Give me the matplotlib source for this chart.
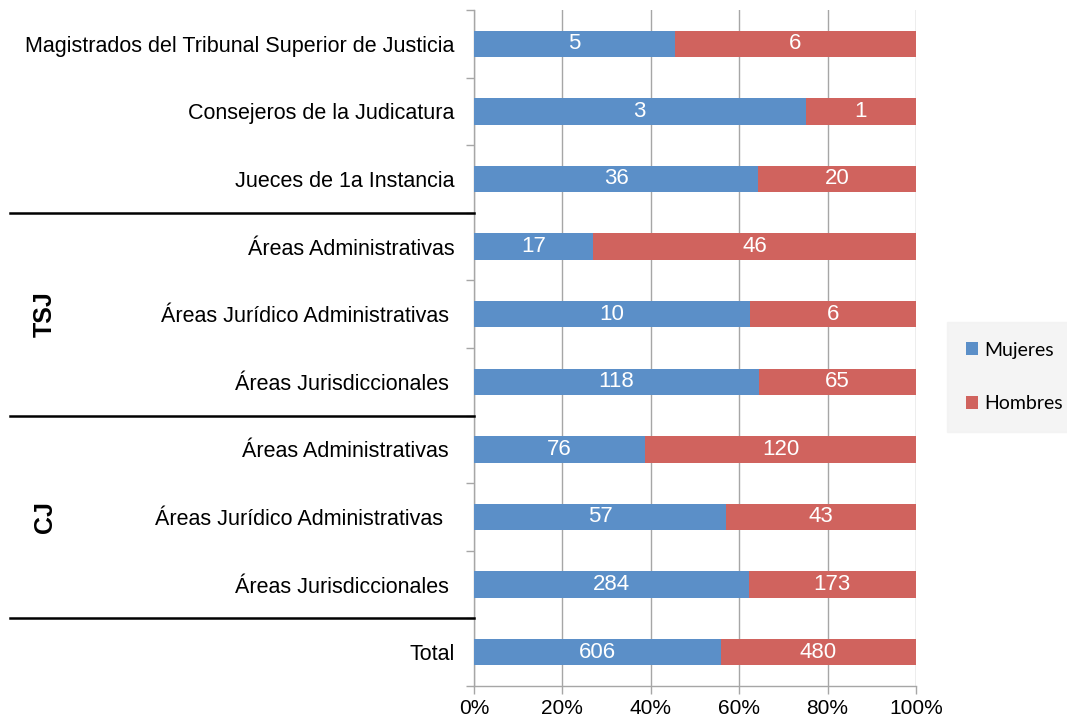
import matplotlib
matplotlib.use("Agg")
import matplotlib.pyplot as plt
from matplotlib.transforms import blended_transform_factory
from matplotlib.patches import Patch
import numpy as np

plt.rcParams['font.family'] = ['Liberation Sans', 'DejaVu Sans']

categories = [
    "Magistrados del Tribunal Superior de Justicia",
    "Consejeros de la Judicatura",
    "Jueces de 1a Instancia",
    "Áreas Administrativas",
    "Áreas Jurídico Administrativas ",
    "Áreas Jurisdiccionales ",
    "Áreas Administrativas ",
    "Áreas Jurídico Administrativas  ",
    "Áreas Jurisdiccionales ",
    "Total",
]
mujeres = [5, 3, 36, 17, 10, 118, 76, 57, 284, 606]
hombres = [6, 1, 20, 46, 6, 65, 120, 43, 173, 480]
groups = [("TSJ", 4), ("CJ", 7)]
separators = [2.5, 5.5, 8.5]
xticks = [0, 0.2, 0.4, 0.6, 0.8, 1.0]
xticklabels = ["0%", "20%", "40%", "60%", "80%", "100%"]

blue = '#5B8FC8'
red = '#D0635E'
grid_c = '#A6A6A6'

fig = plt.figure(figsize=(10.67, 7.19), dpi=100)
ax = fig.add_axes([474/1067, 1 - 686/719, (916 - 474)/1067, (686 - 10)/719])

m = np.array(mujeres, dtype=float)
h = np.array(hombres, dtype=float)
tot = m + h
pm = m / tot
ph = h / tot
y = np.arange(len(categories))

ax.barh(y, pm, height=0.39, color=blue, zorder=3)
ax.barh(y, ph, left=pm, height=0.39, color=red, zorder=3)

for i in range(len(y)):
    ax.text(pm[i] / 2, y[i], str(mujeres[i]), color='white', fontsize=16,
            ha='center', va='center', zorder=4)
    ax.text(pm[i] + ph[i] / 2, y[i], str(hombres[i]), color='white', fontsize=16,
            ha='center', va='center', zorder=4)

ax.set_xlim(0, 1)
ax.set_ylim(len(y) - 0.5, -0.5)
ax.set_xticks(xticks)
ax.set_xticklabels(xticklabels, fontsize=15)
ax.set_yticks(y)
ax.set_yticklabels(categories, fontsize=15.5)
ax.tick_params(axis='y', length=0, pad=14)
ax.set_yticks(np.arange(-0.5, len(y), 1), minor=True)
ax.tick_params(axis='y', which='minor', length=6, color=grid_c, width=1)
ax.tick_params(axis='x', length=6, color=grid_c, width=1, pad=3)
ax.grid(axis='x', color=grid_c, linewidth=1, zorder=0)
for s in ['top', 'right']:
    ax.spines[s].set_visible(False)
for s in ['left', 'bottom']:
    ax.spines[s].set_color(grid_c)
    ax.spines[s].set_linewidth(1)

# group separators across the label area
tr = blended_transform_factory(fig.transFigure, ax.transData)
for sy in separators:
    ax.plot([10/1067, 474/1067], [sy, sy], color='black', linewidth=1.8,
            transform=tr, clip_on=False, zorder=5)

for name, gy in groups:
    ax.text(45/1067, gy, name, transform=tr, rotation=90, fontsize=18,
            fontweight='bold', ha='center', va='center')

handles = [Patch(facecolor=blue, label='Mujeres'), Patch(facecolor=red, label='Hombres')]
leg = fig.legend(handles=handles, loc='center left', bbox_to_anchor=(947/1067, 1 - 377/719),
                 frameon=True, fancybox=False, facecolor='#F2F2F2', edgecolor='#F2F2F2',
                 handlelength=0.6, handleheight=0.6, handletextpad=0.3,
                 labelspacing=1.9, borderpad=1.0, borderaxespad=0,
                 prop={'family': 'Lato', 'size': 14})

fig.savefig('out.png', dpi=100)
